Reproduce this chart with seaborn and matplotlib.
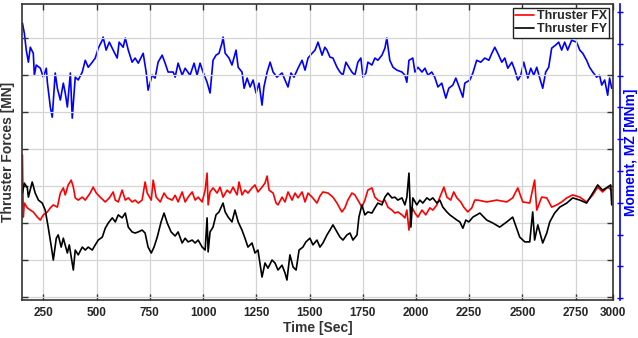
import matplotlib
matplotlib.use("Agg")
import matplotlib.pyplot as plt
import pandas as pd
import seaborn as sns

# --- data (y axes carry no labels, units are tick steps) ---
mz_time = [152, 161, 170, 180, 189, 203, 208, 217, 236, 250, 264, 269, 283, 292, 306, 316,
           330, 344, 353, 363, 377, 386, 400, 414, 433, 447, 461, 480, 494, 508, 527, 531,
           545, 560, 578, 597, 606, 625, 635, 649, 667, 681, 696, 719, 733, 742, 761, 775,
           789, 808, 822, 836, 860, 869, 883, 902, 916, 939, 958, 972, 986, 1000, 1019, 1033,
           1047, 1061, 1075, 1089, 1094, 1104, 1122, 1136, 1155, 1165, 1183, 1193, 1207, 1221,
           1235, 1249, 1263, 1277, 1286, 1301, 1315, 1329, 1347, 1371, 1385, 1399, 1413, 1427,
           1446, 1465, 1479, 1493, 1512, 1526, 1540, 1559, 1572, 1582, 1596, 1610, 1629, 1643,
           1657, 1671, 1685, 1699, 1713, 1727, 1741, 1751, 1765, 1774, 1793, 1807, 1821, 1840,
           1854, 1863, 1877, 1892, 1910, 1934, 1948, 1957, 1967, 1985, 1995, 2009, 2028, 2042,
           2056, 2074, 2088, 2103, 2121, 2140, 2154, 2173, 2187, 2196, 2220, 2229, 2253, 2267,
           2285, 2304, 2323, 2342, 2356, 2370, 2384, 2403, 2417, 2431, 2450, 2464, 2478, 2492,
           2506, 2525, 2539, 2553, 2567, 2581, 2595, 2609, 2623, 2637, 2656, 2670, 2684, 2698,
           2712, 2731, 2754, 2769, 2783, 2801, 2815, 2830, 2848, 2862, 2872, 2886, 2900, 2909,
           2919]
mz_value = [8.65, 8.33, 7.80, 7.42, 7.89, 7.70, 7.01, 7.33, 7.23, 6.95, 7.23, 6.79, 6.01, 5.69,
            7.08, 6.60, 6.23, 6.76, 6.45, 6.01, 7.08, 5.66, 6.95, 6.86, 7.11, 7.48, 7.26, 7.42,
            7.55, 7.86, 8.11, 8.21, 7.80, 8.05, 7.80, 7.55, 8.05, 7.89, 8.18, 7.80, 7.42, 7.55,
            7.39, 7.70, 7.11, 6.54, 7.01, 6.92, 7.42, 7.64, 7.39, 7.11, 7.11, 6.95, 7.39, 7.01,
            7.23, 7.01, 7.39, 7.01, 7.39, 7.11, 6.79, 6.45, 7.48, 7.64, 7.70, 8.02, 8.21, 7.70,
            7.55, 7.33, 7.80, 7.26, 7.11, 6.60, 6.92, 6.64, 6.86, 6.45, 6.76, 6.07, 6.64, 7.11,
            7.42, 7.11, 6.95, 7.08, 6.86, 6.64, 7.08, 6.95, 7.23, 7.48, 7.17, 7.55, 7.70, 7.80,
            8.05, 7.64, 7.89, 7.80, 7.58, 7.55, 7.26, 7.11, 7.01, 7.42, 7.26, 7.11, 7.01, 7.42,
            7.55, 6.95, 7.08, 7.42, 7.33, 7.55, 7.48, 7.64, 7.86, 8.18, 7.48, 7.26, 7.17, 7.11,
            7.01, 6.79, 7.48, 7.55, 7.11, 7.26, 7.11, 7.23, 7.01, 7.11, 6.95, 6.64, 6.76, 6.29,
            6.60, 6.70, 6.92, 6.76, 6.32, 6.76, 6.86, 7.08, 7.48, 7.42, 7.55, 7.48, 7.70, 7.89,
            7.70, 7.42, 7.55, 7.23, 7.42, 7.17, 6.86, 7.01, 7.42, 6.92, 7.23, 7.01, 7.26, 6.92,
            6.60, 7.11, 7.26, 7.86, 7.96, 8.05, 7.80, 8.05, 7.80, 8.11, 8.05, 7.80, 7.70, 7.48,
            7.26, 7.11, 6.95, 7.01, 6.70, 6.86, 6.38, 6.92, 6.60]

fx_time = [152, 156, 161, 175, 189, 203, 222, 236, 250, 269, 283, 297, 316, 330, 344, 353,
           367, 381, 391, 400, 414, 433, 447, 470, 484, 499, 517, 541, 560, 578, 588, 602,
           620, 635, 649, 667, 681, 696, 714, 728, 738, 757, 766, 780, 799, 817, 832, 855,
           869, 883, 902, 916, 930, 949, 963, 977, 996, 1010, 1019, 1024, 1033, 1047, 1066,
           1080, 1094, 1113, 1127, 1141, 1160, 1169, 1183, 1197, 1211, 1230, 1244, 1258, 1277,
           1291, 1301, 1310, 1329, 1343, 1352, 1371, 1385, 1399, 1418, 1432, 1446, 1465, 1479,
           1493, 1512, 1535, 1549, 1563, 1587, 1610, 1629, 1652, 1666, 1680, 1699, 1713, 1727,
           1746, 1760, 1774, 1793, 1807, 1821, 1840, 1854, 1868, 1887, 1901, 1915, 1934, 1948,
           1957, 1967, 1981, 1995, 2009, 2028, 2046, 2065, 2079, 2098, 2112, 2131, 2145, 2163,
           2177, 2192, 2210, 2224, 2243, 2262, 2276, 2290, 2332, 2379, 2426, 2454, 2478, 2501,
           2534, 2557, 2567, 2590, 2614, 2637, 2661, 2684, 2708, 2736, 2769, 2801, 2830, 2853,
           2876, 2900, 2919]
fx_value = [3.84, 2.16, 2.54, 2.41, 2.35, 2.30, 2.16, 2.08, 2.22, 2.30, 2.41, 2.49, 2.43, 2.81,
            2.95, 2.76, 3.03, 3.16, 2.97, 2.68, 2.62, 2.70, 2.62, 2.81, 2.97, 2.81, 2.70, 2.57,
            2.68, 2.84, 2.62, 2.57, 2.89, 2.62, 2.68, 2.57, 2.62, 2.54, 2.62, 3.11, 2.81, 2.62,
            3.16, 2.70, 2.57, 2.81, 2.68, 2.62, 2.75, 2.57, 2.84, 2.57, 2.70, 2.84, 2.62, 2.70,
            2.57, 2.89, 3.35, 2.49, 2.84, 2.95, 2.81, 2.97, 2.70, 2.89, 2.81, 2.97, 2.76, 3.11,
            2.76, 2.89, 2.81, 2.95, 3.03, 2.84, 2.97, 3.08, 3.27, 2.89, 2.81, 2.54, 2.49, 2.70,
            2.57, 2.84, 2.62, 2.81, 2.68, 2.84, 2.57, 2.81, 2.70, 2.54, 2.73, 2.84, 2.81, 2.70,
            2.54, 2.30, 2.41, 2.62, 2.81, 2.76, 2.62, 2.43, 2.62, 2.89, 2.95, 2.70, 2.62, 2.57,
            2.62, 2.43, 2.35, 2.27, 2.30, 2.22, 2.14, 2.35, 1.81, 2.43, 2.27, 2.16, 2.35, 2.22,
            2.41, 2.35, 2.49, 2.70, 2.97, 2.70, 2.62, 2.84, 2.68, 2.57, 2.43, 2.30, 2.41, 2.62,
            2.62, 2.57, 2.62, 2.57, 2.68, 2.95, 2.57, 2.54, 3.16, 2.35, 2.70, 2.68, 2.43, 2.49,
            2.57, 2.68, 2.76, 2.70, 2.57, 2.76, 2.97, 2.84, 2.97, 2.89]

fy_time = [152, 161, 175, 180, 198, 212, 227, 245, 259, 273, 288, 297, 311, 320, 334, 344,
           363, 372, 391, 400, 414, 433, 447, 461, 480, 494, 508, 527, 541, 555, 574, 588,
           602, 620, 635, 649, 667, 681, 696, 714, 728, 742, 757, 770, 785, 803, 817, 832,
           850, 869, 883, 902, 916, 930, 949, 963, 977, 996, 1010, 1019, 1024, 1033, 1047,
           1061, 1075, 1094, 1104, 1118, 1136, 1150, 1165, 1183, 1197, 1211, 1230, 1244, 1258,
           1277, 1291, 1305, 1324, 1338, 1352, 1371, 1385, 1394, 1408, 1423, 1437, 1451, 1469,
           1483, 1502, 1516, 1535, 1549, 1563, 1582, 1596, 1610, 1629, 1643, 1657, 1676, 1690,
           1704, 1723, 1732, 1746, 1760, 1774, 1793, 1807, 1821, 1840, 1854, 1868, 1887, 1901,
           1915, 1934, 1948, 1957, 1967, 1976, 1985, 2004, 2018, 2032, 2051, 2065, 2079, 2098,
           2112, 2126, 2145, 2159, 2173, 2192, 2206, 2220, 2234, 2248, 2267, 2300, 2332, 2361,
           2393, 2426, 2454, 2487, 2511, 2534, 2548, 2557, 2572, 2595, 2614, 2628, 2651, 2675,
           2708, 2736, 2769, 2801, 2830, 2853, 2876, 2900, 2914, 2919]
fy_value = [2.81, 3.08, 2.95, 2.70, 3.11, 2.81, 2.62, 2.54, 2.35, 1.89, 1.35, 1.00, 1.59, 1.68,
            1.35, 1.59, 1.19, 1.41, 0.73, 1.27, 1.14, 1.35, 1.27, 1.35, 1.27, 1.41, 1.54, 1.62,
            1.86, 2.00, 2.14, 2.03, 2.22, 2.14, 2.27, 1.89, 1.76, 1.73, 1.76, 1.81, 1.73, 1.35,
            1.19, 1.35, 1.62, 2.03, 2.27, 2.00, 1.76, 1.65, 1.76, 1.46, 1.59, 1.49, 1.54, 1.46,
            1.54, 1.35, 1.27, 2.14, 1.22, 1.76, 1.89, 2.22, 2.30, 2.54, 2.30, 2.16, 2.03, 2.35,
            2.03, 1.81, 1.59, 1.35, 1.46, 1.19, 1.27, 0.54, 0.92, 0.78, 1.00, 0.92, 0.73, 0.86,
            0.65, 0.46, 1.14, 0.81, 0.73, 1.27, 1.35, 1.49, 1.59, 1.41, 1.54, 1.35, 1.46, 1.68,
            1.81, 1.95, 1.76, 1.62, 1.54, 1.68, 1.73, 1.54, 1.68, 2.16, 2.49, 2.22, 2.30, 2.27,
            2.41, 2.54, 2.49, 2.70, 2.81, 2.68, 2.70, 2.62, 2.68, 2.49, 2.70, 3.35, 1.89, 2.68,
            2.49, 2.62, 2.54, 2.68, 2.62, 2.68, 2.54, 2.62, 2.43, 2.30, 2.22, 2.16, 2.08, 2.03,
            1.86, 2.08, 2.03, 2.16, 2.27, 2.08, 2.00, 1.89, 2.03, 2.16, 1.62, 1.49, 1.49, 2.30,
            1.54, 1.95, 1.46, 1.73, 2.03, 2.27, 2.43, 2.54, 2.68, 2.62, 2.54, 2.81, 3.03, 2.89,
            2.97, 3.03, 2.49]

x_ticks = [250, 500, 750, 1000, 1250, 1500, 1750, 2000, 2250, 2500, 2750]
x_tick_labels = ["250", "500", "750", "1000", "1250", "1500", "1750", "2000", "2250",
                 "2500", "2750", "3000"]
t_min, t_max = 150, 2925

fx_df = pd.DataFrame({"time": fx_time, "force": fx_value})
fy_df = pd.DataFrame({"time": fy_time, "force": fy_value})
mz_df = pd.DataFrame({"time": mz_time, "moment": mz_value})

sns.set_style("ticks")
plt.rcParams["font.family"] = ["Liberation Sans", "DejaVu Sans"]
plt.rcParams["font.weight"] = "bold"

fig = plt.figure(figsize=(6.38, 3.38), dpi=100)
ax = fig.add_axes([22 / 638, 38 / 338, 591 / 638, 296 / 338])
ax2 = ax.twinx()
# forces drawn above the moment curve
ax.set_zorder(ax2.get_zorder() + 1)
ax.patch.set_visible(False)

sns.lineplot(data=mz_df, x="time", y="moment", ax=ax2, color="#0000ff", lw=1.2)
sns.lineplot(data=fx_df, x="time", y="force", ax=ax, color="#ff0000", lw=1.2,
             label="Thruster FX")
sns.lineplot(data=fy_df, x="time", y="force", ax=ax, color="#000000", lw=1.2,
             label="Thruster FY")

ax.set_xlim(t_min, t_max)
ax.set_xticks(x_ticks + [t_max])
ax.set_xticklabels(x_tick_labels)
ax.set_ylim(-0.08, 7.92)
ax.set_yticks(range(8))
ax2.set_ylim(-0.06, 9.25)
ax2.set_yticks(range(10))

ax.grid(True, color="#d4d4d4", lw=0.9)
for s in ax.spines.values():
    s.set_color("#333333")
    s.set_linewidth(1.2)
ax.tick_params(direction="in", top=True, right=True, length=4, width=1,
               color="#333333", labelleft=False, labelsize=8.5, pad=5)
ax2.tick_params(direction="inout", length=4, width=1, color="#0000ff",
                labelright=False)
ax2.spines["right"].set_position(("outward", 5))
ax2.spines["right"].set_color("#0000ff")
ax2.spines["right"].set_linewidth(1.2)
for side in ["left", "top", "bottom"]:
    ax2.spines[side].set_visible(False)

ax.set_xlabel("Time [Sec]", fontsize=10, fontweight="bold", color="#333333")
ax.xaxis.set_label_coords(0.5, -0.07)
ax.set_ylabel("Thruster Forces [MN]", fontsize=10, fontweight="bold", color="#333333")
ax.yaxis.set_label_coords(-0.011, 0.5)
ax2.set_ylabel("Moment, MZ [MNm]", fontsize=10, fontweight="bold", color="#0000ff")
ax2.yaxis.set_label_coords(1.018, 0.5)

leg = ax.legend(loc="upper right", fontsize=9, frameon=True, fancybox=False,
                handlelength=1.5, handletextpad=0.2, borderpad=0.2,
                labelspacing=0.1, borderaxespad=0.3)
leg.get_frame().set_edgecolor("#222222")
leg.get_frame().set_linewidth(1.0)
leg.get_frame().set_alpha(1)
for t in leg.get_texts():
    t.set_fontweight("bold")

fig.savefig("out.png", dpi=100)
